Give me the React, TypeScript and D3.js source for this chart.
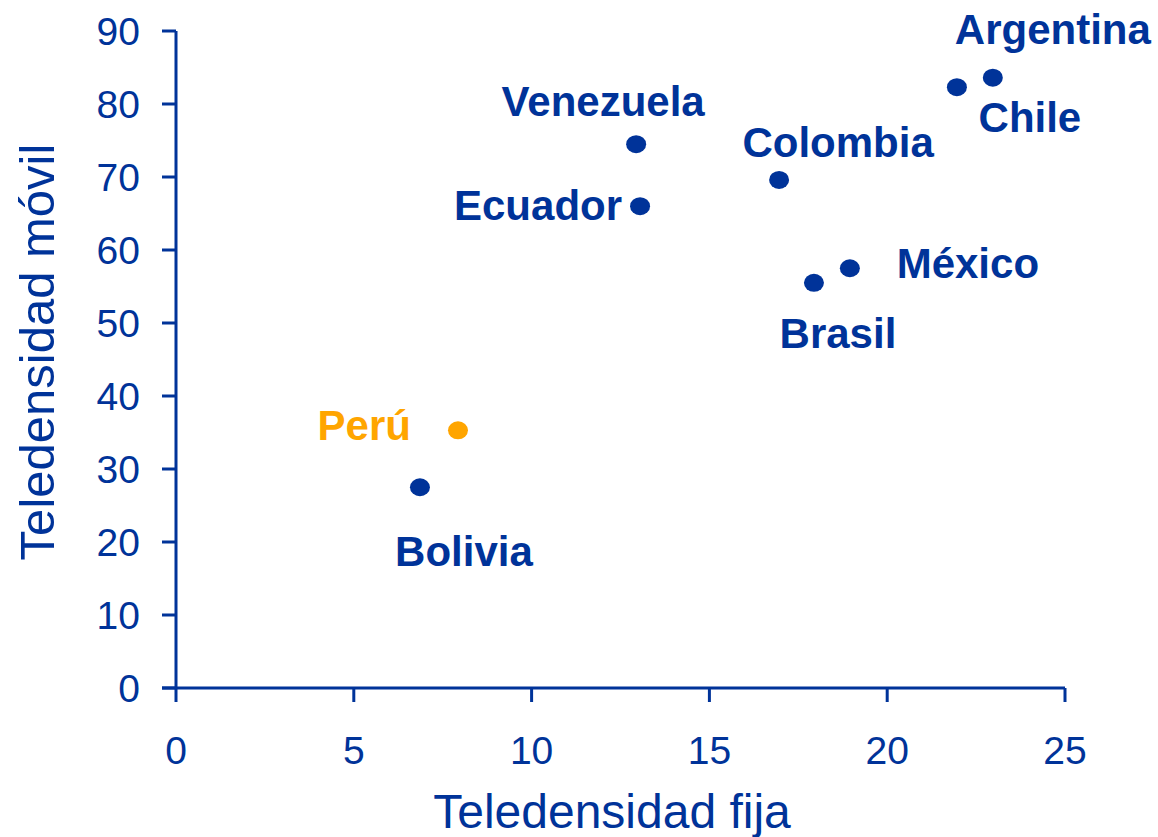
import React from "react";
import * as d3 from "d3";

const countries = ["Argentina", "Chile", "Venezuela", "Colombia", "Ecuador", "México", "Brasil", "Perú", "Bolivia"];
const fija = [22.97, 21.96, 12.94, 16.96, 13.05, 18.95, 17.94, 7.93, 6.86];
const movil = [83.6, 82.3, 74.5, 69.6, 66.0, 57.5, 55.5, 35.3, 27.5];
const highlight = ["Perú"];
const xTicks = [0, 5, 10, 15, 20, 25];
const yTicks = [0, 10, 20, 30, 40, 50, 60, 70, 80, 90];

// label placement offsets (px, baseline) relative to the point: [dx, dy, anchor]
const labelOffsets: Record<string, [number, number, string]> = {
  "Argentina": [60, -34, "middle"],
  "Chile": [73, 45, "middle"],
  "Venezuela": [-33, -28, "middle"],
  "Colombia": [59, -23, "middle"],
  "Ecuador": [-18, 14, "end"],
  "México": [118, 10, "middle"],
  "Brasil": [24, 65, "middle"],
  "Perú": [-47, 10, "end"],
  "Bolivia": [44, 79, "middle"],
};

const BLUE = "#003399";
const ORANGE = "#FFA500";

export default function App() {
  const W = 1158, H = 837;
  const x = d3.scaleLinear().domain([0, 25]).range([176, 1065]);
  const y = d3.scaleLinear().domain([0, 90]).range([688, 31]);
  const font = "'Liberation Sans', Arial, sans-serif";
  return (
    <svg width={W} height={H} style={{ position: "absolute", left: 0, top: 0, background: "#fff" }}>
      <g stroke={BLUE} strokeWidth={3} fill="none">
        <line x1={x(0)} x2={x(0)} y1={y(0)} y2={y(90)} />
        <line x1={x(0) - 14} x2={x(25)} y1={y(0)} y2={y(0)} />
        {yTicks.map((t) => (
          <line key={"yt" + t} x1={x(0) - 14} x2={x(0)} y1={y(t)} y2={y(t)} />
        ))}
        {xTicks.map((t) => (
          <line key={"xt" + t} x1={x(t)} x2={x(t)} y1={y(0)} y2={y(0) + 14} />
        ))}
      </g>
      <g fill={BLUE} fontFamily={font} fontSize={39}>
        {yTicks.map((t) => (
          <text key={"yl" + t} x={x(0) - 36} y={y(t) + 14} textAnchor="end">{t}</text>
        ))}
        {xTicks.map((t) => (
          <text key={"xl" + t} x={x(t)} y={y(0) + 76} textAnchor="middle">{t}</text>
        ))}
      </g>
      <text x={612} y={828} textAnchor="middle" fill={BLUE} fontFamily={font} fontSize={48}>Teledensidad fija</text>
      <text transform={`translate(54,352) rotate(-90)`} textAnchor="middle" fill={BLUE} fontFamily={font} fontSize={49}>Teledensidad móvil</text>
      {countries.map((c, i) => {
        const col = highlight.includes(c) ? ORANGE : BLUE;
        const [dx, dy, anchor] = labelOffsets[c];
        const px = x(fija[i]), py = y(movil[i]);
        return (
          <g key={c}>
            <ellipse cx={px} cy={py} rx={10} ry={9} fill={col} />
            <text x={px + dx} y={py + dy} textAnchor={anchor as any} fill={col} fontFamily={font} fontWeight="bold" fontSize={42}>{c}</text>
          </g>
        );
      })}
    </svg>
  );
}
